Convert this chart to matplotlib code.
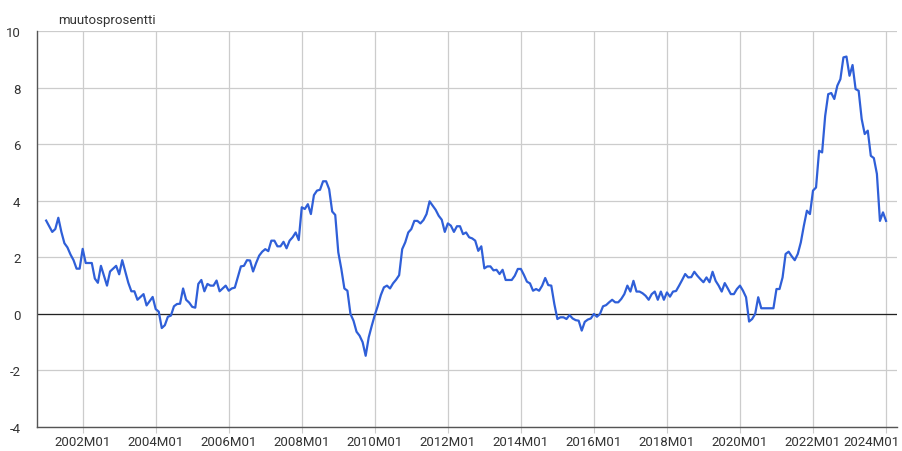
import numpy as np
import matplotlib.pyplot as plt
from matplotlib.transforms import ScaledTranslation

# Annual change of consumer prices, monthly 2001M01 .. 2024M01
start_year = 2001
values = [
    # 2001
    3.3, 3.1, 2.9, 3.0, 3.4, 2.9, 2.5, 2.35, 2.1, 1.9, 1.6, 1.6,
    # 2002
    2.3, 1.8, 1.8, 1.8, 1.25, 1.1, 1.7, 1.35, 1.0, 1.5, 1.6, 1.7,
    # 2003
    1.4, 1.9, 1.5, 1.1, 0.8, 0.8, 0.5, 0.6, 0.7, 0.3, 0.45, 0.6,
    # 2004
    0.17, 0.08, -0.5, -0.4, -0.1, -0.06, 0.27, 0.35, 0.36, 0.9, 0.5, 0.4,
    # 2005
    0.25, 0.22, 1.06, 1.2, 0.8, 1.06, 1.0, 1.0, 1.18, 0.8, 0.9, 1.0,
    # 2006
    0.82, 0.9, 0.93, 1.3, 1.68, 1.7, 1.9, 1.89, 1.5, 1.8, 2.06, 2.2,
    # 2007
    2.29, 2.22, 2.59, 2.59, 2.39, 2.39, 2.55, 2.32, 2.59, 2.71, 2.88, 2.61,
    # 2008
    3.77, 3.71, 3.88, 3.53, 4.2, 4.36, 4.39, 4.69, 4.69, 4.41, 3.62, 3.5,
    # 2009
    2.18, 1.59, 0.9, 0.82, 0.0, -0.24, -0.63, -0.77, -1.0, -1.48, -0.83, -0.42,
    # 2010
    -0.04, 0.29, 0.67, 0.94, 1.0, 0.9, 1.08, 1.21, 1.37, 2.29, 2.53, 2.88,
    # 2011
    3.0, 3.29, 3.29, 3.2, 3.32, 3.53, 3.98, 3.83, 3.68, 3.47, 3.33, 2.9,
    # 2012
    3.2, 3.12, 2.9, 3.1, 3.1, 2.82, 2.88, 2.71, 2.67, 2.59, 2.23, 2.39,
    # 2013
    1.61, 1.68, 1.68, 1.54, 1.56, 1.41, 1.56, 1.2, 1.2, 1.2, 1.35, 1.59,
    # 2014
    1.59, 1.38, 1.14, 1.08, 0.82, 0.88, 0.82, 1.0, 1.27, 1.02, 1.0, 0.35,
    # 2015
    -0.18, -0.12, -0.12, -0.18, -0.04, -0.16, -0.22, -0.24, -0.59, -0.28, -0.2, -0.16,
    # 2016
    0.0, -0.1, 0.0, 0.27, 0.31, 0.41, 0.5, 0.41, 0.41, 0.53, 0.7, 1.0,
    # 2017
    0.79, 1.17, 0.79, 0.79, 0.73, 0.64, 0.5, 0.7, 0.79, 0.5, 0.79, 0.5,
    # 2018
    0.76, 0.61, 0.79, 0.81, 1.0, 1.2, 1.41, 1.29, 1.3, 1.49, 1.35, 1.23,
    # 2019
    1.12, 1.29, 1.12, 1.49, 1.17, 1.0, 0.79, 1.09, 0.9, 0.7, 0.7, 0.88,
    # 2020
    1.0, 0.82, 0.59, -0.27, -0.18, 0.0, 0.59, 0.2, 0.2, 0.2, 0.2, 0.2,
    # 2021
    0.88, 0.88, 1.29, 2.12, 2.2, 2.04, 1.9, 2.12, 2.53, 3.12, 3.65, 3.53,
    # 2022
    4.36, 4.47, 5.77, 5.71, 7.0, 7.77, 7.81, 7.6, 8.07, 8.3, 9.07, 9.1,
    # 2023
    8.42, 8.8, 7.95, 7.89, 6.89, 6.36, 6.48, 5.59, 5.51, 4.95, 3.29, 3.59,
    # 2024
    3.29,
]

tick_years = list(range(2002, 2025, 2))
tick_labels = [f"{y}M01" for y in tick_years]
y_ticks = [-4, -2, 0, 2, 4, 6, 8, 10]

months = np.arange(len(values))
tick_pos = [(y - start_year) * 12 for y in tick_years]

plt.rcParams['font.family'] = ['Roboto', 'DejaVu Sans']

fig = plt.figure(figsize=(9.03, 4.52), dpi=100)
ax = fig.add_axes([0.041, 0.053, 0.952, 0.876])

ax.plot(months, values, color='#2f5fd8', linewidth=1.6, zorder=3)
ax.axhline(0, color='#222222', linewidth=0.9, zorder=2)

ax.set_xlim(-3, 279.5)
ax.set_ylim(-4, 10)
ax.set_xticks(tick_pos)
ax.set_xticklabels(tick_labels)
ax.set_yticks(y_ticks)
ax.set_yticklabels([str(v) for v in y_ticks])

ax.grid(True, color='#cccccc', linewidth=0.9, zorder=0)
for side in ['top', 'right']:
    ax.spines[side].set_visible(False)
ax.spines['left'].set_color('#555555')
ax.spines['bottom'].set_color('#555555')
ax.spines['left'].set_linewidth(1.0)
ax.spines['bottom'].set_linewidth(1.0)

ax.tick_params(axis='x', length=4, color='#cccccc', labelsize=9.5,
               labelcolor='#333333', pad=2)
ax.tick_params(axis='y', length=0, labelsize=9.5, labelcolor='#333333', pad=12)

# last label is pushed left so it stays inside the figure
last = ax.get_xticklabels()[-1]
last.set_transform(last.get_transform() + ScaledTranslation(-0.15, 0, fig.dpi_scale_trans))

fig.text(0.064, 0.955, 'muutosprosentti', fontsize=9.5, color='#333333',
         ha='left', va='center')

fig.savefig('out.png', dpi=100)
